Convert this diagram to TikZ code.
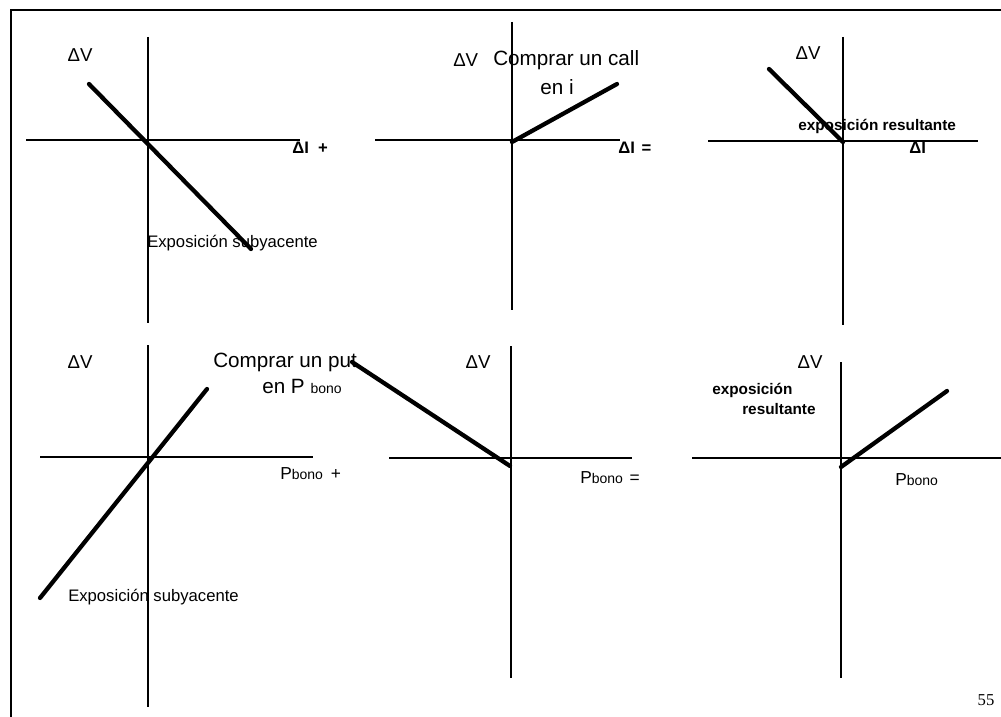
\documentclass[tikz,border=0pt]{standalone}
\usepackage{fontspec}
\setmainfont{Liberation Sans}
\newfontfamily\pagefont{Liberation Serif}
\usetikzlibrary{positioning}

\begin{document}
\begin{tikzpicture}[
        x=0.75pt, y=-0.75pt,
        axis/.style={line width=1.4pt},
        payoff/.style={line width=3.2pt, line cap=round},
        frameline/.style={line width=1.5pt},
        dv/.style={inner sep=0pt, font=\fontsize{14}{16}\selectfont},
        di/.style={inner sep=0pt, anchor=west, font=\bfseries\fontsize{12.5}{14}\selectfont},
        title/.style={inner sep=0pt, anchor=west, font=\fontsize{15.5}{18}\selectfont},
        expo/.style={inner sep=0pt, anchor=west, font=\fontsize{12.5}{14}\selectfont},
        result/.style={inner sep=0pt, anchor=west, font=\bfseries\fontsize{11.5}{13}\selectfont},
        price/.style={inner sep=0pt, anchor=west, font=\fontsize{13}{15}\selectfont}
    ]
    \useasboundingbox (0,0) rectangle (1001,717);
    \newcommand{\bono}{{\fontsize{10.5}{12}\selectfont bono}}

    % page frame
    \coordinate (fTL) at (11,10);
    \coordinate (fTR) at (1001,10);
    \coordinate (fBL) at (11,717);
    \draw[frameline] (fTR) -- (fTL) -- (fBL);

    % upper row: Delta i
    \node[dv] (dv1) at (80,55) {ΔV};
    \node[di] (di1) at (292,148) {ΔI\hspace{7pt}+};
    \node[expo] (expo1) at (147,243) {Exposición subyacente};

    \node[dv, anchor=west] (dv2) at (453,60) {ΔV};
    \node[title] (call) at (493,60) {Comprar un call};
    \node[title, anchor=center] (calli) at (557,87) {en i};
    \node[di] (di2) at (618,148) {ΔI\hspace{5pt}=};

    \node[dv] (dv3) at (808,53) {ΔV};
    \node[result] (res3) at (798,126) {exposición resultante};
    \node[di] (di3) at (909,148) {ΔI};

    % lower row: P bono
    \node[dv] (dv4) at (80,362) {ΔV};
    \node[title] (put) at (213,362) {Comprar un put};
    \node[title] (putp) at (262,386) {en P \bono};
    \node[price] (pb4) at (280,474) {P\bono\hspace{6pt}+};
    \node[expo] (expo4) at (68,597) {Exposición subyacente};

    \node[dv] (dv5) at (478,362) {ΔV};
    \node[price] (pb5) at (580,478) {P\bono\hspace{5pt}=};

    \node[dv] (dv6) at (810,362) {ΔV};
    \node[result] (res6a) at (712,390) {exposición};
    \node[result] (res6b) at (742,409) {resultante};
    \node[price] (pb6) at (895,480) {P\bono};

    \node[inner sep=0pt, font=\pagefont\fontsize{12.5}{14}\selectfont] (page) at (986,700) {55};

    % axes
    \coordinate (v1t) at (148,37);  \coordinate (v1b) at (148,323);
    \coordinate (h1l) at (26,140);  \coordinate (h1r) at (300,140);
    \coordinate (v2t) at (512,22);  \coordinate (v2b) at (512,310);
    \coordinate (h2l) at (375,140); \coordinate (h2r) at (620,140);
    \coordinate (v3t) at (843,37);  \coordinate (v3b) at (843,325);
    \coordinate (h3l) at (708,141); \coordinate (h3r) at (978,141);
    \coordinate (v4t) at (148,345); \coordinate (v4b) at (148,707);
    \coordinate (h4l) at (40,457);  \coordinate (h4r) at (313,457);
    \coordinate (v5t) at (511,346); \coordinate (v5b) at (511,678);
    \coordinate (h5l) at (389,458); \coordinate (h5r) at (632,458);
    \coordinate (v6t) at (841,362); \coordinate (v6b) at (841,678);
    \coordinate (h6l) at (692,458); \coordinate (h6r) at (1001,458);
    \foreach \p in {1,...,6} {
        \draw[axis] (v\p t) -- (v\p b);
        \draw[axis] (h\p l) -- (h\p r);
    }

    % exposures
    \coordinate (c1a) at (89,84);   \coordinate (c1b) at (251,249);
    \coordinate (c2a) at (512,142); \coordinate (c2b) at (617,84);
    \coordinate (c3a) at (769,69);  \coordinate (c3b) at (843,142);
    \coordinate (c4a) at (40,598);  \coordinate (c4b) at (207,389);
    \coordinate (c5a) at (352,362); \coordinate (c5b) at (510,466);
    \coordinate (c6a) at (841,467); \coordinate (c6b) at (947,391);
    \foreach \p in {1,...,6} {
        \draw[payoff] (c\p a) -- (c\p b);
    }

\end{tikzpicture}
\end{document}
